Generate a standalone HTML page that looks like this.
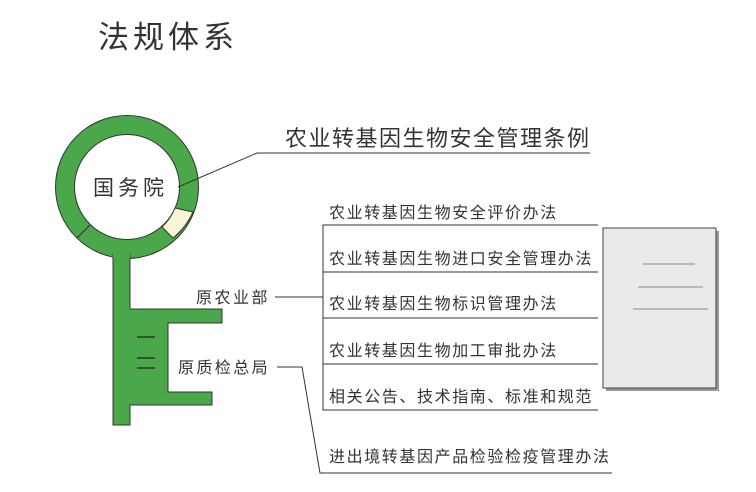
<!DOCTYPE html>
<html><head><meta charset="utf-8"><style>
body{margin:0;background:#fff;}
svg{display:block}
text{font-family:"Liberation Sans","Noto Sans CJK SC",sans-serif;fill:#333;}
</style></head><body>
<svg width="756" height="492" viewBox="0 0 756 492">
<text x="98" y="48" font-size="31" letter-spacing="4">法规体系</text>
<!-- ring -->
<circle cx="127" cy="187" r="62" fill="none" stroke="#4aa84a" stroke-width="19"/>
<circle cx="127" cy="187" r="71.5" fill="none" stroke="#333" stroke-width="1"/>
<circle cx="127" cy="187" r="52.5" fill="none" stroke="#333" stroke-width="1"/>
<path d="M162 227 L173 238 A71 71 0 0 0 193 212 L175 208 A53 53 0 0 1 162 227Z" fill="#fbf5d8" stroke="#333" stroke-width="1"/>
<line x1="77" y1="238" x2="90" y2="225" stroke="#333" stroke-width="1.2"/>
<!-- stem and bit -->
<path d="M113 254 L113 425 L130 425 L130 405 L212 405 L212 392 L168 392 L168 323 L222 323 L222 309 L130 309 L130 254Z" fill="#4aa84a" stroke="#333" stroke-width="1"/>
<rect x="113" y="250" width="17" height="8" fill="#4aa84a"/>
<line x1="137" y1="337" x2="155" y2="337" stroke="#222" stroke-width="1.3"/>
<line x1="137" y1="358" x2="155" y2="358" stroke="#222" stroke-width="1.3"/>
<line x1="137" y1="368" x2="155" y2="368" stroke="#222" stroke-width="1.3"/>
<text x="93" y="195" font-size="21" letter-spacing="4">国务院</text>
<!-- top connector -->
<polyline points="178,187 257,153 590,153" fill="none" stroke="#333" stroke-width="1"/>
<text x="285" y="146" font-size="22" letter-spacing="1.5">农业转基因生物安全管理条例</text>
<!-- MOA -->
<text x="196" y="303" font-size="16" letter-spacing="2.5">原农业部</text>
<line x1="275" y1="297" x2="323" y2="297" stroke="#333"/>
<polyline points="598,225 323,225 323,410 598,410" fill="none" stroke="#333"/>
<line x1="323" y1="272" x2="598" y2="272" stroke="#333"/>
<line x1="323" y1="318" x2="598" y2="318" stroke="#333"/>
<line x1="323" y1="364" x2="598" y2="364" stroke="#333"/>
<g font-size="16" letter-spacing="1.6">
<text x="329" y="218">农业转基因生物安全评价办法</text>
<text x="329" y="264">农业转基因生物进口安全管理办法</text>
<text x="329" y="309">农业转基因生物标识管理办法</text>
<text x="329" y="356">农业转基因生物加工审批办法</text>
<text x="329" y="402">相关公告、技术指南、标准和规范</text>
<text x="329" y="462">进出境转基因产品检验检疫管理办法</text>
</g>
<text x="178" y="373" font-size="16" letter-spacing="2.4">原质检总局</text>
<polyline points="277,367 302,367 320,473 612,473" fill="none" stroke="#333"/>
<!-- document -->
<rect x="606" y="231" width="113" height="160" fill="#999"/>
<rect x="603" y="228" width="113" height="160" fill="#eaeaea" stroke="#444" stroke-width="1"/>
<line x1="643" y1="264" x2="695" y2="264" stroke="#888"/>
<line x1="638" y1="287" x2="703" y2="287" stroke="#888"/>
<line x1="633" y1="309" x2="708" y2="309" stroke="#888"/>
</svg>
</body></html>
